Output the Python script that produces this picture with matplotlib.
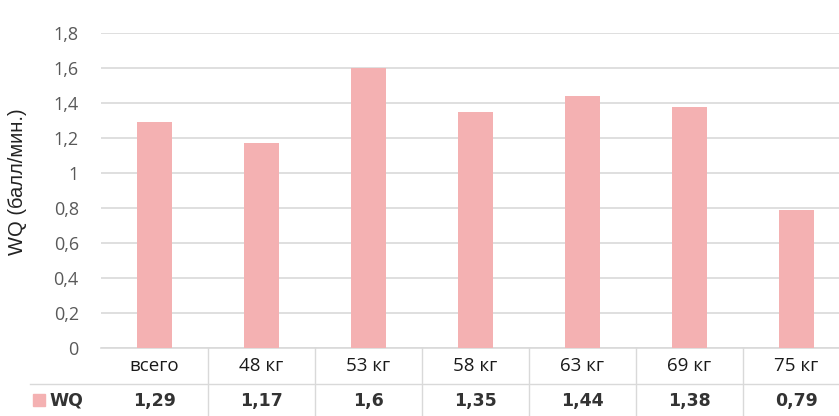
import matplotlib.pyplot as plt
import numpy as np

categories = ['всего', '48 кг', '53 кг', '58 кг', '63 кг', '69 кг', '75 кг']
wq_values = [1.29, 1.17, 1.6, 1.35, 1.44, 1.38, 0.79]
value_labels = ['1,29', '1,17', '1,6', '1,35', '1,44', '1,38', '0,79']
y_ticks = [0, 0.2, 0.4, 0.6, 0.8, 1.0, 1.2, 1.4, 1.6, 1.8]
y_tick_labels = ['0', '0,2', '0,4', '0,6', '0,8', '1', '1,2', '1,4', '1,6', '1,8']
series_name = 'WQ'

bar_color = '#f4b1b2'
grid_color = '#d9d9d9'
text_color = '#595959'

W, H = 839, 416
fig = plt.figure(figsize=(W / 100, H / 100), dpi=100)

# plot area in pixels: left 101, right 850 (runs past the edge), top 33, bottom 348
left, right, top, bottom = 101, 850, 33, 348
ax = fig.add_axes([left / W, 1 - bottom / H, (right - left) / W, (bottom - top) / H])

x = np.arange(len(categories))
ax.bar(x, wq_values, width=0.32, color=bar_color, zorder=3)
ax.set_xlim(-0.5, len(categories) - 0.5)
ax.set_ylim(0, 1.8)
ax.set_yticks(y_ticks)
ax.set_yticklabels(y_tick_labels, fontfamily='Open Sans', fontsize=13, color=text_color)
ax.set_xticks([])
ax.tick_params(axis='y', length=0, pad=16)
ax.grid(axis='y', color=grid_color, linewidth=1.2, zorder=0)
for s in ['top', 'right', 'left']:
    ax.spines[s].set_visible(False)
ax.spines['bottom'].set_color(grid_color)
ax.spines['bottom'].set_linewidth(1.2)

fig.text(18 / W, 1 - 182 / H, 'WQ (балл/мин.)', rotation=90, ha='center', va='center',
         fontfamily='Liberation Sans', fontsize=14.5, color='#222222')

# data table under the axis
line_kw = dict(color=grid_color, linewidth=1.0, transform=fig.transFigure, figure=fig)
col_w = (right - left) / len(categories)
fig.add_artist(plt.Line2D([30 / W, 1], [1 - 384 / H] * 2, **line_kw))
for i in range(1, len(categories)):
    xb = (left + i * col_w) / W
    fig.add_artist(plt.Line2D([xb, xb], [0, 1 - bottom / H], **line_kw))

for i, (cat, lab) in enumerate(zip(categories, value_labels)):
    xc = (left + (i + 0.5) * col_w) / W
    fig.text(xc, 1 - 366 / H, cat, ha='center', va='center',
             fontfamily='Open Sans', fontsize=13.5, color='#1a1a1a')
    fig.text(xc, 1 - 401 / H, lab, ha='center', va='center',
             fontfamily='DejaVu Sans', fontweight='bold', fontsize=12.5, color='#333333')

fig.add_artist(plt.Rectangle((33 / W, 1 - 406 / H), 12 / W, 12 / H,
                             color=bar_color, transform=fig.transFigure))
fig.text(49 / W, 1 - 401 / H, series_name, ha='left', va='center',
         fontfamily='DejaVu Sans', fontweight='bold', fontsize=12.5, color='#333333')

fig.savefig('out.png', dpi=100)
